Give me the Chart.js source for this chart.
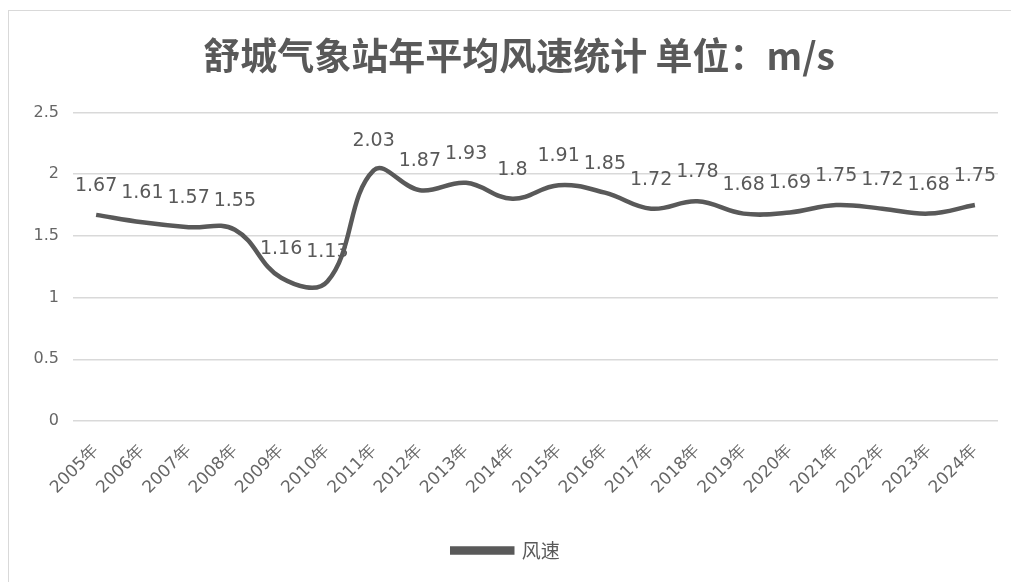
<!DOCTYPE html>
<html>
<head>
<meta charset="utf-8">
<script src="https://cdn.jsdelivr.net/npm/chart.js@4.4.1/dist/chart.umd.min.js"></script>
<style>
  html, body { margin: 0; padding: 0; background: #fff; }
  #wrap { position: relative; width: 1011px; height: 582px; overflow: hidden; }
  #frame { position: absolute; left: 8px; top: 10px; width: 1020px; height: 600px; border: 1px solid #d9d9d9; box-sizing: border-box; }
  #windChart { position: absolute; left: 0; top: 0; }
</style>
</head>
<body>
<div id="wrap">
  <div id="frame"></div>
  <canvas id="windChart" width="1011" height="582"></canvas>
</div>
<script>
// 舒城气象站 2005-2024 年平均风速 (m/s)
const years = ['2005年', '2006年', '2007年', '2008年', '2009年', '2010年', '2011年', '2012年', '2013年', '2014年',
               '2015年', '2016年', '2017年', '2018年', '2019年', '2020年', '2021年', '2022年', '2023年', '2024年'];
const windSpeed = [1.67, 1.61, 1.57, 1.55, 1.16, 1.13, 2.03, 1.87, 1.93, 1.8,
                   1.91, 1.85, 1.72, 1.78, 1.68, 1.69, 1.75, 1.72, 1.68, 1.75];
const yTicks = [0, 0.5, 1, 1.5, 2, 2.5];

const inkColor = '#595959';

// value labels above each point
const valueLabels = {
    id: 'valueLabels',
    afterDatasetsDraw(chart) {
        const ctx = chart.ctx;
        const meta = chart.getDatasetMeta(0);
        ctx.save();
        ctx.font = '19px "DejaVu Sans"';
        ctx.fillStyle = inkColor;
        ctx.textAlign = 'center';
        ctx.textBaseline = 'middle';
        meta.data.forEach((pt, i) => {
            ctx.fillText(String(windSpeed[i]), pt.x, pt.y - 29);
        });
        ctx.restore();
    }
};

// nudge the title a little right of the layout centre
const titleShift = {
    id: 'titleShift',
    afterLayout(chart) {
        const t = chart.titleBlock;
        if (t) {
            t.left += 13;
            t.right += 13;
        }
    }
};

const ctx = document.getElementById('windChart').getContext('2d');
new Chart(ctx, {
    type: 'line',
    data: {
        labels: years,
        datasets: [{
            label: '风速',
            data: windSpeed,
            borderColor: inkColor,
            backgroundColor: inkColor,
            borderWidth: 4.5,
            pointRadius: 0,
            tension: 0.4,
            fill: false
        }]
    },
    options: {
        responsive: false,
        animation: false,
        layout: {
            padding: { left: 14, right: 13, top: 0, bottom: 12 }
        },
        plugins: {
            title: {
                display: true,
                text: '舒城气象站年平均风速统计 单位：m/s',
                color: inkColor,
                font: { family: '"Noto Sans CJK SC"', size: 37, weight: 'bold' },
                padding: { top: 34, bottom: 34 }
            },
            legend: {
                position: 'bottom',
                labels: {
                    boxWidth: 60,
                    boxHeight: 4,
                    color: inkColor,
                    font: { family: '"Noto Sans CJK SC"', size: 19 },
                    padding: 10
                }
            },
            tooltip: { enabled: false }
        },
        scales: {
            y: {
                min: 0,
                max: 2.5,
                afterBuildTicks(scale) {
                    scale.ticks = yTicks.map(v => ({ value: v }));
                },
                afterFit(scale) {
                    scale.width = 59;
                },
                ticks: {
                    color: '#666',
                    font: { family: '"DejaVu Sans"', size: 16 },
                    padding: 14,
                    callback: v => String(v)
                },
                grid: { color: '#d9d9d9', lineWidth: 1.5, drawTicks: false },
                border: { display: false }
            },
            x: {
                offset: true,
                afterFit(scale) {
                    scale.height = 110;
                },
                grid: { display: false },
                border: { display: false },
                ticks: {
                    color: '#666',
                    font: { family: '"DejaVu Sans"', size: 17 },
                    minRotation: 45,
                    maxRotation: 45,
                    padding: 12,
                    autoSkip: false
                }
            }
        }
    },
    plugins: [valueLabels, titleShift]
});
</script>
</body>
</html>
